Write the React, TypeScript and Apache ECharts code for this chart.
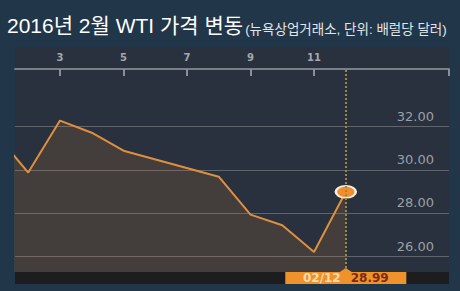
import { useEffect, useRef } from 'react';
import * as echarts from 'echarts';

// Data (February 2016 WTI settlement)
const days = [1, 2, 3, 4, 5, 8, 9, 10, 11, 12];
const prices = [31.62, 29.88, 32.28, 31.72, 30.89, 29.69, 27.94, 27.45, 26.21, 28.99];
const xTickDays = [3, 5, 7, 9, 11];
const yTickValues = [26, 28, 30, 32];
const titleMain = '2016년 2월 WTI 가격 변동';
const titleSub = '(뉴욕상업거래소, 단위: 배럴당 달러)';
const hoverDateLabel = '02/12';

// Visible axis window
const X_MIN = 1.583;
const X_MAX = 15.25;
const Y_MIN = 25.29;
const Y_MAX = 34.66;

const LATIN_KR = "'Liberation Sans', 'Noto Sans CJK KR', sans-serif";
const AXIS_FONT = "'DejaVu Sans', sans-serif";

export default function App() {
  const ref = useRef<HTMLDivElement>(null);

  useEffect(() => {
    if (!ref.current) return;
    const chart = echarts.init(ref.current, undefined, { renderer: 'svg' });
    const last = days.length - 1;

    const seriesData = days.map((d, i) =>
      i === last
        ? {
            value: [d, prices[i]],
            symbol: 'path://M0,5a5,5 0 1,0 10,0a5,5 0 1,0 -10,0',
            symbolSize: [20, 12],
            symbolKeepAspect: false,
            itemStyle: { color: '#ef8f2d', borderColor: '#f7efe4', borderWidth: 2 },
          }
        : { value: [d, prices[i]], symbol: 'none' }
    );

    chart.setOption({
      animation: false,
      backgroundColor: '#213649',
      title: {
        text: `{a|${titleMain}}{b|${titleSub}}`,
        left: 7,
        top: 12,
        padding: 0,
        textStyle: {
          fontWeight: 'normal',
          rich: {
            a: { fontSize: 21, fontWeight: 'normal', color: '#ffffff', fontFamily: LATIN_KR, lineHeight: 24, verticalAlign: 'bottom' },
            b: { fontSize: 13.5, fontWeight: 'normal', color: '#e2e6ea', fontFamily: LATIN_KR, lineHeight: 18, verticalAlign: 'bottom', padding: [0, 0, 0, 2] },
          },
        },
      },
      graphic: [
        { type: 'rect', z: -1, shape: { x: 15, y: 47, width: 434, height: 237 }, style: { fill: '#28313d' }, silent: true },
        { type: 'rect', z: 1, shape: { x: 15, y: 272, width: 434, height: 12 }, style: { fill: '#1d1d1f' }, silent: true },
      ],
      grid: { left: 15, right: 11, top: 69, bottom: 19, containLabel: false },
      xAxis: {
        type: 'value',
        position: 'top',
        min: X_MIN,
        max: X_MAX,
        axisLine: { show: true, lineStyle: { color: '#7a7e86', width: 2 } },
        axisTick: {
          show: true,
          inside: true,
          length: 7,
          customValues: [...xTickDays, X_MAX],
          lineStyle: { color: '#8a8e96', width: 2 },
        },
        axisLabel: {
          customValues: xTickDays,
          color: '#a4a8ae',
          fontSize: 10,
          fontWeight: 'bold',
          fontFamily: AXIS_FONT,
          margin: 7,
        },
        splitLine: { show: false },
      },
      yAxis: {
        type: 'value',
        position: 'right',
        min: Y_MIN,
        max: Y_MAX,
        axisLine: { show: false },
        axisTick: { show: false, customValues: yTickValues },
        axisLabel: {
          inside: true,
          customValues: yTickValues,
          formatter: (v: number) => v.toFixed(2),
          color: '#9aa0a8',
          fontSize: 13,
          fontFamily: AXIS_FONT,
          verticalAlign: 'bottom',
          margin: 15,
          padding: [0, 0, 4, 0],
        },
        splitLine: { show: true, lineStyle: { color: '#60646c', width: 1 } },
      },
      series: [
        {
          type: 'line',
          z: 3,
          data: seriesData,
          showAllSymbol: true,
          lineStyle: { color: '#df8f3e', width: 2 },
          itemStyle: { color: '#df8f3e' },
          areaStyle: { color: 'rgba(232,145,58,0.2)' },
          markLine: {
            silent: true,
            symbol: 'none',
            label: { show: false },
            lineStyle: { color: '#9c8a3c', type: [2, 2], width: 2 },
            data: [{ xAxis: days[last] }],
          },
          markPoint: {
            silent: true,
            symbol: 'path://M0 4 L54 4 L60 0 L66 4 L120 4 L120 16 L0 16 Z',
            symbolSize: [121, 16],
            symbolKeepAspect: false,
            symbolOffset: [0, 4],
            itemStyle: { color: '#f0922a' },
            label: {
              show: true,
              position: 'inside',
              offset: [0, 2],
              formatter: () => `{a|${hoverDateLabel}}   {b|${prices[last].toFixed(2)}}`,
              rich: {
                a: { color: '#f9dcae', fontSize: 12, fontWeight: 'bold', fontFamily: AXIS_FONT },
                b: { color: '#7e2a10', fontSize: 12, fontWeight: 'bold', fontFamily: AXIS_FONT },
              },
            },
            data: [{ coord: [days[last], Y_MIN], value: prices[last] }],
          },
        },
      ],
    });

    return () => chart.dispose();
  }, []);

  return <div ref={ref} style={{ position: 'fixed', left: 0, top: 0, width: 460, height: 291 }} />;
}
